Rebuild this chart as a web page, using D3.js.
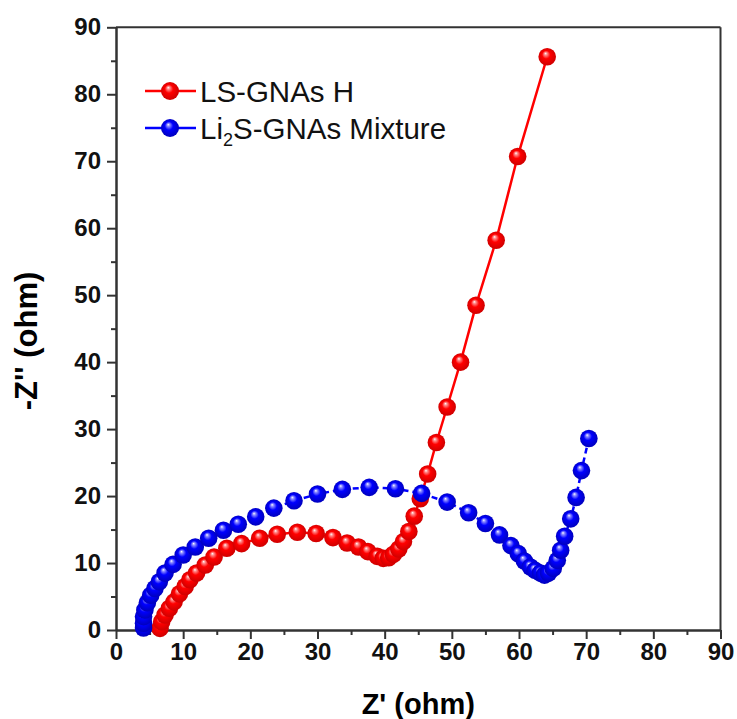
<!DOCTYPE html>
<html>
<head>
<meta charset="utf-8">
<title>Nyquist plot</title>
<script src="https://cdn.jsdelivr.net/npm/d3@7"></script>
<style>
    body { margin: 0; background: #fff; }
    text { font-family: "Liberation Sans", Arial, sans-serif; }
    .axis .tick text { font-weight: bold; font-size: 24px; fill: #111; }
    .axis path, .axis line { stroke: #333; stroke-width: 2; }
</style>
</head>
<body>
<svg id="chart" width="737" height="719"></svg>
<script>
    // LS-GNAs H (red)
    var redX = [6.55, 6.8, 7.3, 7.95, 8.65, 9.45, 10.3, 11.0, 12.0, 13.3, 14.6, 16.5, 18.7, 21.4, 24.0, 27.0,
        29.8, 32.3, 34.4, 36.1, 37.5, 38.9, 39.8, 40.6, 41.3, 42.1, 42.8, 43.6, 44.4, 45.3, 46.4, 47.7,
        49.3, 51.3, 53.6, 56.6, 59.8, 64.2];
    var redY = [0.25, 1.24, 2.24, 3.24, 4.2, 5.4, 6.5, 7.5, 8.5, 9.7, 10.9, 12.2, 12.9, 13.7, 14.3, 14.6,
        14.4, 13.8, 13.0, 12.4, 11.7, 11.0, 10.7, 10.8, 11.3, 12.1, 13.2, 14.7, 17.0, 19.6, 23.3, 28.0,
        33.3, 40.0, 48.5, 58.2, 70.7, 85.6];

    // Li2S-GNAs Mixture (blue)
    var blueX = [4.1, 4.1, 4.1, 4.3, 4.67, 5.17, 5.8, 6.45, 7.3, 8.5, 10.0, 11.8, 13.8, 16.0, 18.2, 20.8,
        23.5, 26.5, 30.0, 33.7, 37.7, 41.6, 45.5, 49.3, 52.5, 55.0, 57.1, 58.8, 59.9, 60.8, 61.7, 62.4,
        63.2, 63.8, 64.4, 65.1, 65.7, 66.2, 66.8, 67.7, 68.5, 69.3, 70.4];
    var blueY = [0.3, 1.0, 2.0, 3.0, 4.07, 5.2, 6.2, 7.2, 8.5, 9.8, 11.2, 12.4, 13.7, 14.9, 15.8, 16.9,
        18.2, 19.3, 20.3, 21.0, 21.3, 21.1, 20.4, 19.1, 17.5, 15.9, 14.2, 12.6, 11.4, 10.3, 9.4, 8.9,
        8.5, 8.2, 8.5, 9.2, 10.4, 11.9, 14.0, 16.6, 19.8, 23.8, 28.6];

    var majorTicks = [0, 10, 20, 30, 40, 50, 60, 70, 80, 90];
    var minorTicks = [5, 15, 25, 35, 45, 55, 65, 75, 85];

    var svg = d3.select("#chart");
    var plotL = 116, plotR = 720.5, plotT = 27.3, plotB = 630;

    var x = d3.scaleLinear().domain([0, 90]).range([plotL, plotR]);
    var y = d3.scaleLinear().domain([0, 90]).range([plotB, plotT]);

    // sphere gradients
    var defs = svg.append("defs");
    function sphere(id, light, base, dark) {
        var g = defs.append("radialGradient").attr("id", id)
            .attr("cx", "50%").attr("cy", "50%").attr("r", "55%")
            .attr("fx", "40%").attr("fy", "30%");
        g.append("stop").attr("offset", "0%").attr("stop-color", "#ffffff");
        g.append("stop").attr("offset", "14%").attr("stop-color", light);
        g.append("stop").attr("offset", "42%").attr("stop-color", base);
        g.append("stop").attr("offset", "100%").attr("stop-color", dark);
    }
    sphere("ballRed", "#ff9090", "#ff0000", "#c80000");
    sphere("ballBlue", "#9090ff", "#0000ff", "#0000b4");

    // frame
    svg.append("line").attr("x1", plotL).attr("x2", plotR).attr("y1", plotT).attr("y2", plotT)
        .attr("stroke", "#333").attr("stroke-width", 2);
    svg.append("line").attr("x1", plotR).attr("x2", plotR).attr("y1", plotT).attr("y2", plotB)
        .attr("stroke", "#333").attr("stroke-width", 2);

    // axes
    svg.append("g").attr("class", "axis")
        .attr("transform", "translate(0," + plotB + ")")
        .call(d3.axisBottom(x).tickValues(minorTicks).tickSize(5).tickSizeOuter(0).tickFormat(""));
    svg.append("g").attr("class", "axis")
        .attr("transform", "translate(0," + plotB + ")")
        .call(d3.axisBottom(x).tickValues(majorTicks).tickSize(9).tickSizeOuter(0).tickPadding(4));
    svg.append("g").attr("class", "axis")
        .attr("transform", "translate(" + plotL + ",0)")
        .call(d3.axisLeft(y).tickValues(minorTicks).tickSize(5).tickSizeOuter(0).tickFormat(""));
    svg.append("g").attr("class", "axis")
        .attr("transform", "translate(" + plotL + ",0)")
        .call(d3.axisLeft(y).tickValues(majorTicks).tickSize(9).tickSizeOuter(0).tickPadding(6));

    // axis titles
    svg.append("text")
        .attr("x", (plotL + plotR) / 2).attr("y", 714)
        .attr("text-anchor", "middle")
        .style("font-size", "29px").style("font-weight", "bold")
        .text("Z' (ohm)");
    svg.append("text")
        .attr("transform", "translate(37,341) rotate(-90)")
        .attr("text-anchor", "middle")
        .style("font-size", "31px").style("font-weight", "bold")
        .text("-Z'' (ohm)");

    // series
    var series = [
        {xs: redX, ys: redY, color: "#ff0000", fill: "url(#ballRed)", dash: null},
        {xs: blueX, ys: blueY, color: "#0000ff", fill: "url(#ballBlue)", dash: "6,4"}
    ];

    var line = d3.line().x(function (d) { return x(d[0]); }).y(function (d) { return y(d[1]); });

    series.forEach(function (s) {
        var pts = d3.zip(s.xs, s.ys);
        svg.append("path").datum(pts)
            .attr("d", line)
            .attr("fill", "none")
            .attr("stroke", s.color)
            .attr("stroke-width", 2.5)
            .attr("stroke-dasharray", s.dash);
        svg.append("g").selectAll("circle").data(pts).enter().append("circle")
            .attr("cx", function (d) { return x(d[0]); })
            .attr("cy", function (d) { return y(d[1]); })
            .attr("r", 8.8)
            .attr("fill", s.fill);
    });

    // legend
    var legend = svg.append("g");
    var rows = [
        {y: 91, color: "#ff0000", fill: "url(#ballRed)"},
        {y: 128, color: "#0000ff", fill: "url(#ballBlue)"}
    ];
    rows.forEach(function (r) {
        legend.append("line").attr("x1", 145).attr("x2", 196).attr("y1", r.y).attr("y2", r.y)
            .attr("stroke", r.color).attr("stroke-width", 2.5);
        legend.append("circle").attr("cx", 170).attr("cy", r.y).attr("r", 9).attr("fill", r.fill);
    });
    legend.append("text").attr("x", 200).attr("y", 101.5)
        .style("font-size", "29.5px").attr("fill", "#111")
        .text("LS-GNAs H");
    var t2 = legend.append("text").attr("x", 200).attr("y", 138.5)
        .style("font-size", "29.5px").attr("fill", "#111");
    t2.append("tspan").text("Li");
    t2.append("tspan").attr("dy", 7).style("font-size", "18px").text("2");
    t2.append("tspan").attr("dy", -7).text("S-GNAs Mixture");
</script>
</body>
</html>
